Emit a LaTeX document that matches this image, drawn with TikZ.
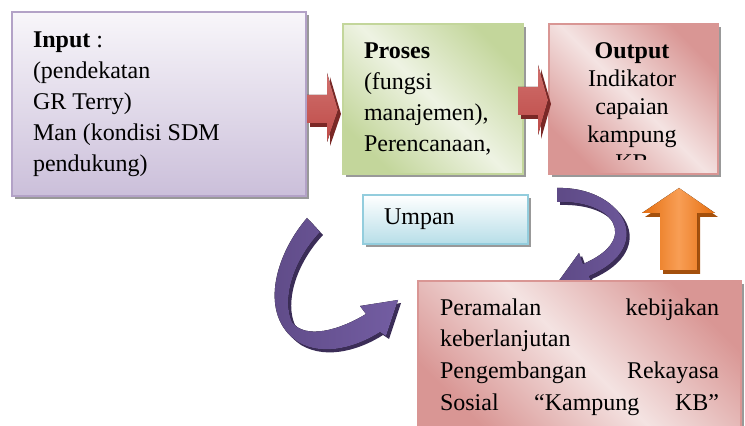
\documentclass[tikz,border=0pt]{standalone}
\usepackage{fontspec}
\setmainfont{Liberation Serif}
\usepackage{tikz}
\usetikzlibrary{%
  shapes,%
  positioning,%
  shadows,% drop shadow
  calc,
}

\definecolor{lilaRand}{HTML}{B3A2C7}
\definecolor{lilaHell}{HTML}{F8F6FA}
\definecolor{lilaDunkel}{HTML}{CBBFDA}
\definecolor{gruenRand}{HTML}{C3D69B}
\definecolor{gruenHell}{HTML}{EEF3E3}
\definecolor{rosaRand}{HTML}{D99694}
\definecolor{rosaHell}{HTML}{F4E3E2}
\definecolor{blauRand}{HTML}{93CDDD}
\definecolor{blauDunkel}{HTML}{B7DEE8}
\definecolor{rotHell}{HTML}{D0706D}
\definecolor{rotMitte}{HTML}{BE4B48}
\definecolor{rotDunkel}{HTML}{7A2826}
\definecolor{orHell}{HTML}{F89E55}
\definecolor{orMitte}{HTML}{E56E0F}
\definecolor{orDunkel}{HTML}{A4500C}
\definecolor{pfLila}{HTML}{5E4A86}
\definecolor{pfLilaHell}{HTML}{735DA2}
\definecolor{pfLilaDunkel}{HTML}{3B2D57}

\tikzset{
  kasten/.style={rectangle, draw, line width=1pt, anchor=north west,
    font=\fontsize{12pt}{15.5pt}\selectfont,
    drop shadow={shadow xshift=1.5pt, shadow yshift=-1.5pt, fill=black, opacity=.4}},
  inkasten/.style={kasten, draw=lilaRand, top color=lilaHell, bottom color=lilaDunkel,
    align=flush left, inner xsep=10.5pt, minimum width=147pt, minimum height=92pt, text width=126pt},
  proskasten/.style={kasten, draw=gruenRand, left color=gruenRand, right color=gruenRand,
    middle color=gruenHell, shading angle=135,
    align=flush left, inner xsep=10.5pt, minimum width=90pt, minimum height=75pt, text width=69pt},
  outkasten/.style={kasten, draw=rosaRand, left color=rosaRand, right color=rosaRand,
    middle color=rosaHell, shading angle=135},
  umpkasten/.style={kasten, draw=blauRand, top color=white, bottom color=blauDunkel,
    align=flush left, inner xsep=10.5pt, minimum width=82.5pt, minimum height=24.5pt, text width=61.5pt},
  rotpfeil/.style={top color=rotHell, bottom color=rotMitte,
    drop shadow={shadow xshift=1.5pt, shadow yshift=-2pt, fill=rotDunkel, opacity=1}},
  lilapfeil/.style={left color=pfLila, right color=pfLilaHell,
    drop shadow={shadow xshift=1.5pt, shadow yshift=-1.5pt, fill=pfLilaDunkel, opacity=1}},
  orpfeil/.style={left color=orMitte, right color=orMitte, middle color=orHell,
    drop shadow={shadow xshift=1.5pt, shadow yshift=-2pt, fill=orDunkel, opacity=1}},
}

\begin{document}
\begin{tikzpicture}[x=0.5pt,y=-0.5pt]
  \clip (0,0) rectangle (745,426);

  % Rueckkopplung
  \fill[lilapfeil] (307,218) .. controls (275,255) and (258,315) .. (298,342)
    .. controls (325,358) and (360,345) .. (380,332) -- (386,336) -- (398,300)
    -- (360,306) -- (366,314) .. controls (340,330) and (305,340) .. (292,322)
    .. controls (282,300) and (292,262) .. (320,232) -- cycle;
  \fill[lilapfeil] (557,188) .. controls (620,186) and (660,245) .. (589,276)
    -- (593,287) -- (558,282) -- (579,253) -- (583,264)
    .. controls (640,240) and (615,200) .. (557,202) -- cycle;

  \node[inkasten] (input) at (11,11) {\textbf{Input} :\\(pendekatan\\GR Terry)\\Man (kondisi SDM\\pendukung)};
  \node[proskasten] (proses) at (342,23) {\textbf{Proses}\\(fungsi\\manajemen),\\Perencanaan,};
  \node[outkasten, minimum width=84.5pt, minimum height=75pt] (output) at (548,23) {};
  \begin{scope}
    \clip (548,23) rectangle (717,160);
    \node[anchor=north, inner sep=0pt, align=center,
      font=\fontsize{12pt}{14pt}\selectfont] (outtext) at (632,42)
      {\textbf{Output}\\Indikator\\capaian\\kampung\\KB};
  \end{scope}
  \node[umpkasten] (umpan) at (362,194) {Umpan};
  \node[outkasten, align=flush left, minimum width=161.5pt, minimum height=76pt,
    text width=139.5pt, font=\fontsize{12pt}{15.8pt}\selectfont] (ramal) at (417,280)
    {Peramalan\hfill kebijakan\\keberlanjutan\\Pengembangan\hfill Rekayasa\\Sosial\hfill “Kampung\hfill KB”};

  % Blockpfeile
  \fill[rotpfeil] (307,95) -- (327,95) -- (327,73) -- (338,110) -- (327,142) -- (327,123) -- (307,123) -- cycle;
  \fill[rotpfeil] (518,87) -- (538,87) -- (538,65) -- (548,100) -- (538,135) -- (538,115) -- (518,115) -- cycle;
  \fill[orpfeil] (679,188) -- (715,213) -- (697,213) -- (697,270) -- (660,270) -- (660,213) -- (642,213) -- cycle;
\end{tikzpicture}
\end{document}
